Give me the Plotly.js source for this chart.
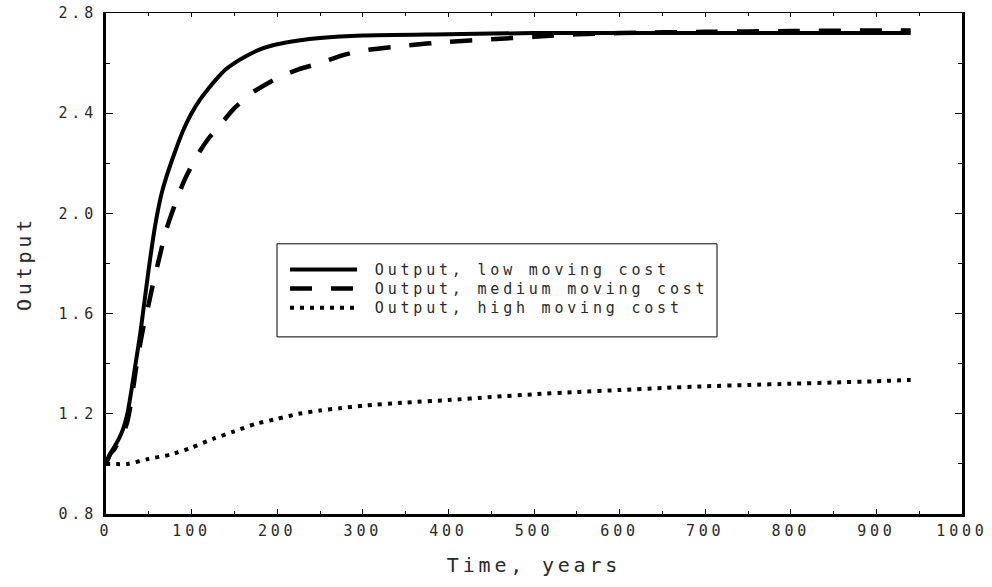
<!DOCTYPE html>
<html>
<head>
<meta charset="utf-8">
<script src="https://cdn.plot.ly/plotly-3.0.1.min.js"></script>
<style>
html, body { margin: 0; padding: 0; background: #fff; }
svg text { letter-spacing: 3.8px; }
</style>
</head>
<body>
<div id="chart" style="width:992px;height:587px;"></div>
<script>
// Time axis (years)
const timeLow = [0, 5, 10, 15, 20, 25, 30, 35, 40, 45, 50, 55, 60, 65, 70, 80, 90, 100, 110, 120, 130, 140, 150, 165, 180, 200, 225, 250, 300, 400, 500, 600, 700, 800, 900, 940];
const outputLow = [1.0, 1.04, 1.07, 1.10, 1.14, 1.20, 1.30, 1.41, 1.52, 1.65, 1.78, 1.90, 2.00, 2.08, 2.14, 2.24, 2.33, 2.40, 2.455, 2.50, 2.54, 2.575, 2.60, 2.63, 2.655, 2.675, 2.69, 2.70, 2.71, 2.715, 2.72, 2.72, 2.72, 2.72, 2.72, 2.72];

const timeMedium = [0, 5, 10, 15, 20, 25, 30, 35, 40, 45, 50, 55, 60, 70, 80, 90, 100, 110, 120, 135, 150, 170, 200, 225, 250, 275, 300, 350, 400, 450, 500, 550, 600, 700, 800, 900, 940];
const outputMedium = [1.0, 1.04, 1.06, 1.09, 1.12, 1.17, 1.26, 1.38, 1.48, 1.57, 1.64, 1.72, 1.79, 1.93, 2.03, 2.12, 2.19, 2.25, 2.30, 2.36, 2.42, 2.48, 2.54, 2.575, 2.60, 2.63, 2.65, 2.67, 2.685, 2.695, 2.705, 2.715, 2.72, 2.725, 2.728, 2.73, 2.73];

const timeHigh = [0, 25, 50, 75, 100, 125, 150, 175, 200, 225, 250, 275, 300, 350, 400, 450, 500, 550, 600, 650, 700, 750, 800, 850, 900, 940];
const outputHigh = [1.0, 1.0, 1.02, 1.037, 1.065, 1.10, 1.13, 1.16, 1.18, 1.20, 1.213, 1.223, 1.232, 1.245, 1.255, 1.267, 1.278, 1.287, 1.295, 1.303, 1.31, 1.315, 1.32, 1.325, 1.33, 1.335];

const seriesNames = ["Output, low moving cost", "Output, medium moving cost", "Output, high moving cost"];

const xTitle = "Time, years";
const yTitle = "Output";

const FONT = "DejaVu Sans Mono";
const TXT = "#2a2a2a";
const NB = "\u00a0";

const traces = [
  { x: timeLow, y: outputLow, name: NB + seriesNames[0], mode: "lines", legend: "legend",
    line: { color: "#000", width: 4, shape: "spline", smoothing: 0.6 } },
  { x: timeMedium, y: outputMedium, name: NB + seriesNames[1], mode: "lines", legend: "legend2",
    line: { color: "#000", width: 4.5, dash: "22px,19px", shape: "spline", smoothing: 0.6 } },
  { x: timeHigh, y: outputHigh, name: NB + seriesNames[2], mode: "lines", legend: "legend3",
    line: { color: "#000", width: 4, dash: "4px,6px", shape: "spline", smoothing: 0.6 } },
  { x: [], y: [], xaxis: "x2", showlegend: false, hoverinfo: "skip" }
];

function legendAt(yPaper) {
  return {
    x: 0.2091, y: yPaper, xanchor: "left", yanchor: "middle",
    bgcolor: "rgba(0,0,0,0)", borderwidth: 0,
    font: { family: FONT, size: 15, color: TXT },
    itemwidth: 67
  };
}

const layout = {
  width: 992, height: 587,
  margin: { l: 106, r: 30, t: 13, b: 73 },
  paper_bgcolor: "#fff", plot_bgcolor: "#fff",
  showlegend: true,
  font: { family: FONT, color: TXT, size: 15 },
  xaxis: {
    range: [0, 1000], tick0: 0, dtick: 100,
    ticks: "inside", ticklen: 5, tickwidth: 1, tickcolor: "#000",
    minor: { ticks: "inside", dtick: 50, ticklen: 3, tickwidth: 1, tickcolor: "#000" },
    showline: true, linewidth: 3, linecolor: "#000", mirror: false,
    showgrid: false, zeroline: false,
    tickfont: { family: FONT, size: 15, color: TXT },
    ticklabelstandoff: 1,
    title: { text: xTitle, font: { family: FONT, size: 20, color: TXT }, standoff: 19 }
  },
  xaxis2: {
    overlaying: "x", matches: "x", side: "top", anchor: "y",
    range: [0, 1000], tick0: 0, dtick: 100,
    ticks: "inside", ticklen: 4, tickwidth: 1, tickcolor: "#000",
    minor: { ticks: "inside", dtick: 50, ticklen: 3, tickwidth: 1, tickcolor: "#000" },
    showline: true, linewidth: 1.3, linecolor: "#000",
    showgrid: false, zeroline: false, showticklabels: false
  },
  yaxis: {
    range: [0.8, 2.8], tick0: 0.8, dtick: 0.4, tickformat: ".1f",
    ticks: "inside", ticklen: 7, tickwidth: 1, tickcolor: "#000",
    minor: { ticks: "inside", dtick: 0.2, ticklen: 4, tickwidth: 1, tickcolor: "#000" },
    showline: true, linewidth: 3, linecolor: "#000", mirror: "ticks",
    showgrid: false, zeroline: false,
    tickfont: { family: FONT, size: 15, color: TXT },
    ticklabelstandoff: 3,
    title: { text: yTitle, font: { family: FONT, size: 20, color: TXT }, standoff: 22 }
  },
  legend: legendAt(0.4873),
  legend2: legendAt(0.4494),
  legend3: legendAt(0.4114),
  shapes: [
    { type: "rect", xref: "paper", yref: "paper",
      x0: 0.1998, x1: 0.7138, y0: 0.3535, y1: 0.5393,
      line: { color: "#000", width: 1 }, fillcolor: "rgba(0,0,0,0)" }
  ]
};

Plotly.newPlot("chart", traces, layout, { staticPlot: true, displayModeBar: false });
</script>
</body>
</html>
